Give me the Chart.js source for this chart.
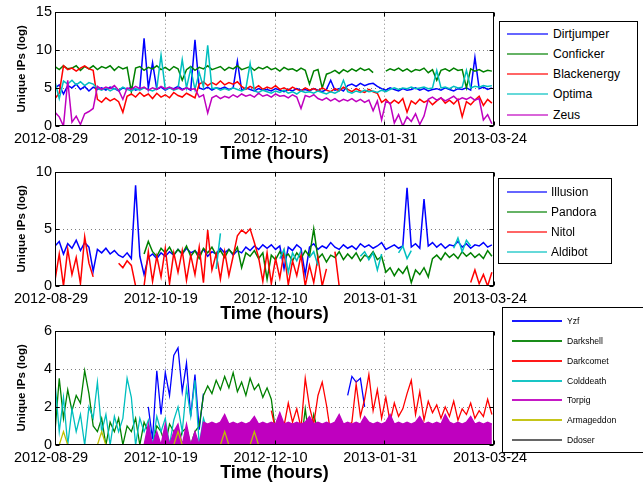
<!DOCTYPE html>
<html><head><meta charset="utf-8">
<script src="https://cdn.jsdelivr.net/npm/chart.js@4"></script>
<style>
html,body{margin:0;padding:0;background:#fff;}
body{width:643px;height:483px;overflow:hidden;position:relative;font-family:"Liberation Sans",Arial,sans-serif;}
canvas{position:absolute;left:0;}
.legend{position:absolute;border:1px solid #000;background:#fff;box-sizing:border-box;}
.legend .sw{position:absolute;}
.legend .lb{position:absolute;white-space:nowrap;transform:translateY(-52%);color:#000;}
</style></head>
<body>
<canvas id="c1" width="643" height="166" style="top:0px"></canvas>
<canvas id="c2" width="643" height="166" style="top:160px"></canvas>
<canvas id="c3" width="643" height="166" style="top:319px"></canvas>
<div id="lg1" class="legend" style="left:499px;top:21px;width:139px;height:105px"></div>
<div id="lg2" class="legend" style="left:498px;top:178px;width:114px;height:86px"></div>
<div id="lg3" class="legend" style="left:502px;top:307px;width:150px;height:146px"></div>
<script>
const _ = null;
// sampling interval of all series (days since 2012-08-29)
const DAY_STEP = 2;
const tickDays = [0, 51.75, 103.5, 155.25, 207];
const tickLabels = ['2012-08-29','2012-10-19','2012-12-10','2013-01-31','2013-03-24'];

// ---------- Panel 1 ----------
const names1 = ['Dirtjumper','Conficker','Blackenergy','Optima','Zeus'];
const dirtjumper = [
5.0,5.4,4.2,5.3,5.0,5.5,4.8,5.2,4.6,5.1,
4.8,5.0,4.7,5.1,4.9,4.6,5.0,4.8,5.1,4.7,
4.9,11.5,5.0,8.3,4.8,5.1,4.7,5.0,4.9,5.2,
4.8,5.0,4.7,11.3,5.0,4.8,5.1,4.7,5.0,4.9,
5.1,4.8,5.0,8.5,4.7,5.0,4.8,4.6,4.9,4.7,
4.8,4.6,4.9,4.7,4.5,4.8,4.6,4.9,4.7,4.8,
4.6,4.9,4.7,4.5,4.8,6.0,4.7,4.9,4.6,5.3,
5.5,5.2,5.6,5.3,5.5,5.6,5.2,4.9,4.7,5.0,
4.8,4.6,4.9,4.7,4.8,5.0,4.7,4.9,4.6,4.8,
4.9,4.7,5.0,4.8,4.6,4.9,4.8,5.0,4.7,9.0,
4.9,5.1,4.8,5.0];
const conficker = [
7.8,7.4,7.9,7.5,7.6,7.9,7.3,7.8,7.5,7.9,
7.4,7.8,7.6,7.9,7.3,7.8,7.5,7.7,4.5,7.6,
7.8,7.3,7.7,7.5,7.9,7.4,7.7,7.3,7.8,7.5,
6.0,7.4,7.8,7.3,7.7,7.5,7.9,7.4,7.6,7.8,
7.3,7.7,7.5,7.9,7.4,7.6,7.8,7.3,7.7,7.5,
7.8,7.4,7.6,7.2,7.7,7.4,7.5,7.2,7.6,7.3,
5.5,7.2,7.4,5.0,6.8,7.0,7.3,6.9,7.4,7.1,
7.5,7.2,7.6,7.3,7.5,7.0,_,_,7.2,7.5,
7.3,7.6,7.2,7.5,7.1,7.4,7.3,7.6,7.0,7.4,
6.0,7.3,7.5,7.2,7.6,7.3,7.4,5.0,7.5,7.2,
7.4,7.1,7.3,7.2];
const blackenergy = [
3.6,4.3,7.9,7.4,7.6,7.2,7.6,7.9,7.5,7.3,
3.5,3.1,3.7,3.3,3.6,3.2,1.8,3.9,4.2,3.8,
4.4,3.9,4.2,3.6,4.3,3.8,4.1,3.7,4.4,4.0,
3.8,4.3,4.0,3.7,5.5,5.8,5.3,5.7,5.4,5.9,
5.4,5.7,5.5,5.8,5.2,4.8,5.2,4.9,5.3,4.8,
5.1,4.9,5.3,4.8,5.0,4.7,5.1,4.8,4.6,5.0,
4.7,4.9,4.6,5.0,4.7,4.5,4.9,4.6,5.1,4.8,
4.5,4.9,4.6,4.4,4.8,4.5,4.3,3.1,3.5,2.9,
3.4,3.0,3.6,1.8,3.3,2.9,3.5,3.1,3.4,2.8,
3.3,3.7,3.0,3.4,2.9,3.5,1.2,3.2,2.8,3.4,
3.9,2.7,3.5,3.0];
const optima = [
5.8,3.6,5.9,5.5,6.0,5.4,5.8,5.3,5.7,5.5,
4.9,4.7,5.0,4.6,4.9,4.7,5.1,4.8,4.6,4.9,
4.7,5.0,4.8,4.6,4.9,9.3,4.8,5.0,4.7,4.9,
8.7,5.0,7.5,4.8,7.0,5.1,10.6,4.9,5.0,4.7,
4.9,4.7,5.0,4.8,4.6,4.9,8.2,4.6,4.4,4.7,
4.5,4.3,4.6,4.4,4.7,4.3,4.5,4.2,4.6,4.4,
4.5,4.3,4.6,4.4,4.2,4.5,4.3,4.6,6.0,4.5,
4.3,4.6,4.4,4.7,4.5,4.6,4.4,4.7,4.5,4.8,
5.0,4.8,5.0,4.9,5.1,4.9,5.0,5.1,4.9,5.0,
7.3,5.0,5.1,4.9,5.2,5.0,5.1,7.3,5.0,5.2,
5.1,5.3,5.2,5.3];
const zeus = [
1.8,1.2,0.0,6.0,0.5,1.3,0.2,1.6,1.9,2.3,
5.2,4.8,5.1,4.9,5.3,4.7,3.5,5.0,4.8,5.2,
4.9,5.1,4.7,5.0,4.8,5.2,4.9,5.1,4.8,5.0,
4.7,5.0,4.8,4.9,3.8,4.1,1.7,3.7,4.0,3.6,
3.9,3.7,4.1,3.8,4.2,3.9,4.1,3.8,4.3,3.9,
4.1,3.8,4.2,3.9,4.0,3.7,4.1,3.8,2.3,4.0,
3.8,4.1,3.6,3.4,3.7,3.3,3.6,3.2,3.5,3.3,
3.6,3.2,3.5,3.1,3.4,2.0,3.3,0.8,3.2,3.0,
0.4,1.5,0.0,1.2,0.6,1.6,0.2,1.3,3.5,3.8,
3.4,3.7,3.3,3.6,3.9,3.4,3.7,3.5,3.8,3.4,
3.6,0.8,1.5,0.3];

// ---------- Panel 2 ----------
const names2 = ['Illusion','Pandora','Nitol','Aldibot'];
const illusion = [
3.5,3.9,2.8,3.7,3.3,4.0,3.1,3.8,3.4,1.3,
3.2,2.9,3.3,2.8,3.1,2.7,2.5,2.9,2.4,8.8,
2.6,1.0,2.5,2.8,2.4,2.9,2.6,3.0,2.7,3.2,
2.8,3.3,2.9,3.1,2.7,3.2,2.6,3.0,2.8,3.3,
2.9,3.2,2.7,3.1,2.9,3.4,3.1,3.5,3.2,3.6,
3.3,3.6,3.2,3.5,1.5,3.4,3.1,3.6,3.3,1.0,
3.4,3.7,3.2,3.5,3.3,3.8,3.4,3.2,3.6,3.3,
3.5,3.2,3.7,3.4,3.6,3.3,3.5,3.8,3.2,3.4,
3.6,3.3,3.5,8.6,3.4,3.7,3.3,7.6,3.5,3.8,
3.4,3.7,3.3,3.6,3.5,3.9,3.4,3.7,3.3,3.6,
3.5,3.8,3.4,3.6];
const pandora = [
_,_,_,_,_,_,_,_,_,_,
_,_,_,_,_,_,_,_,_,_,
_,2.8,3.9,3.0,2.6,3.3,2.9,3.4,2.7,3.2,
2.8,3.5,2.6,3.1,2.4,3.3,2.9,3.4,2.7,3.1,
2.5,3.2,2.8,3.4,1.6,2.9,2.6,3.1,2.4,2.9,
0.6,2.7,2.3,3.0,2.5,2.8,2.2,2.9,2.4,3.1,
2.6,5.0,2.4,2.8,2.1,2.7,2.5,3.0,2.3,2.8,
2.4,2.9,2.2,2.7,2.5,3.0,2.3,2.6,1.2,1.6,
0.9,1.5,1.1,1.7,0.3,1.4,1.0,1.6,0.8,2.4,
2.7,2.3,2.9,2.5,2.8,2.4,3.0,2.6,2.9,2.5,
2.8,2.4,3.1,2.6];
const nitol = [
0.5,2.8,0.0,3.2,1.0,2.5,0.2,4.3,2.0,0.8,
_,_,_,_,_,2.0,1.6,2.2,1.8,0.0,
0.0,0.0,3.0,0.4,2.6,0.8,3.3,0.2,2.9,1.2,
3.1,0.5,2.7,1.0,3.4,0.3,4.9,1.4,2.8,0.6,
3.0,0.9,2.6,4.4,4.9,4.6,5.0,3.8,2.5,0.4,
2.9,0.2,2.4,0.7,3.0,0.1,2.2,0.9,2.7,0.0,
1.8,0.3,2.5,0.0,1.5,_,3.0,0.0,_,_,
_,_,_,_,_,_,_,_,_,_,
_,_,_,_,_,_,_,_,_,_,
_,_,_,_,_,_,_,_,0.3,1.4,
0.2,1.0,0.0,1.2];
const aldibot = [
_,_,_,_,_,_,_,_,_,_,
_,_,_,_,_,_,_,_,_,_,
_,_,_,_,_,_,_,_,_,_,
_,_,_,_,_,_,_,_,1.5,4.6,
_,_,_,_,_,_,_,_,_,_,
_,_,_,2.4,3.2,1.2,2.9,2.2,3.1,_,
2.5,3.0,1.8,_,_,_,_,_,_,_,
_,_,2.6,3.0,2.3,2.9,1.4,2.8,_,_,
_,2.9,3.5,2.4,3.1,_,_,_,_,_,
_,_,_,_,3.3,4.2,3.0,4.0,3.5,_,
_,_,_,_];

// ---------- Panel 3 ----------
const names3 = ['Yzf','Darkshell','Darkcomet','Colddeath','Torpig','Armageddon','Ddoser'];
const yzf = [
_,_,_,_,_,_,_,_,_,_,
_,_,_,_,_,_,_,_,_,_,
_,_,2.0,0.3,3.9,1.6,3.8,2.6,4.7,5.1,
2.8,4.3,1.5,3.7,0.8,2.7,_,_,_,_,
_,_,_,_,_,_,_,_,_,_,
_,_,_,_,_,_,_,_,_,_,
_,_,_,_,_,_,_,_,_,2.6,
3.6,3.3,3.5,2.0,_,_,_,_,_,_,
_,_,_,_,_,_,_,_,_,_,
_,_,_,_,_,_,_,_,_,_,
_,_,_,_];
const darkshell = [
0.7,3.5,1.4,2.9,1.8,2.6,2.2,3.9,2.7,1.0,
0.7,1.4,0.0,1.2,0.7,1.4,0.0,1.0,0.7,1.4,
0.0,1.2,0.7,0.0,1.0,0.7,0.0,1.1,0.7,0.0,
0.7,0.9,0.0,0.7,1.0,2.6,3.1,2.7,3.4,2.9,
3.6,3.0,3.8,2.8,3.3,2.6,3.5,2.9,3.2,2.5,
3.0,2.4,0.7,0.0,1.0,0.7,0.0,0.7,0.0,1.9,
0.2,1.6,0.7,_,_,_,_,_,_,_,
_,_,_,_,_,_,_,_,_,_,
_,_,_,_,_,_,_,_,_,_,
_,_,_,_,_,_,_,_,_,_,
_,_,_,_];
const darkcomet = [
_,_,_,_,_,_,_,_,_,_,
_,_,_,_,_,_,_,_,_,_,
_,_,_,_,_,_,_,_,_,_,
_,_,_,_,_,_,_,_,_,_,
_,_,_,_,_,_,_,_,_,_,
_,1.8,0.8,1.6,1.0,2.2,1.2,1.9,0.9,3.5,
2.0,1.1,2.6,3.3,2.1,0.6,0.9,0.5,0.8,1.0,
1.2,3.2,1.5,2.4,3.7,1.8,2.9,1.4,2.5,1.2,
2.2,1.5,1.9,2.7,3.4,1.6,2.8,1.3,2.3,1.7,
2.1,1.4,2.0,1.5,2.3,1.3,1.9,1.6,2.2,1.4,
1.8,1.5,2.4,1.6];
const colddeath = [
3.3,0.7,2.5,0.0,1.9,0.7,1.6,0.0,2.0,1.4,
3.3,0.7,1.6,0.0,1.5,0.7,1.4,3.5,2.5,0.0,
1.4,0.7,1.3,0.0,1.5,0.7,1.4,0.0,1.3,2.0,
0.7,3.0,1.5,3.4,0.0,1.4,0.7,0.0,0.7,0.0,
_,_,_,_,_,_,_,_,_,_,
_,_,_,_,_,_,_,_,_,_,
_,_,_,_,_,_,_,_,_,_,
_,_,_,_,_,_,_,_,_,_,
_,_,_,_,_,_,_,_,_,_,
_,_,_,_,_,_,_,_,_,_,
_,_,_,_];
const torpig = [
_,_,_,_,_,_,_,_,_,_,
_,_,_,_,_,_,_,_,_,_,
_,0.0,1.1,0.0,0.7,0.0,1.1,0.0,0.7,1.1,
0.0,1.1,0.0,0.7,0.0,1.2,1.1,1.2,1.1,1.2,
1.6,1.1,1.2,1.1,1.2,1.1,1.2,1.5,1.1,1.2,
1.1,1.2,1.1,1.7,1.1,1.2,1.1,1.2,1.1,1.2,
1.5,1.1,1.2,1.1,1.2,1.1,1.2,1.6,1.1,1.2,
1.1,1.2,1.1,1.5,1.2,1.1,1.2,1.1,1.2,1.6,
1.1,1.2,1.1,1.2,1.1,1.2,1.5,1.1,1.2,1.1,
1.2,1.1,1.6,1.2,1.1,1.2,1.1,1.2,1.5,1.1,
1.2,1.1,1.2,1.1];
const armageddon = [
0,0,0.7,0,0,0,0,0,0,0,
0,0.7,0,0,0,0,0,0,0,0,
0,0,0,0,0,0,0,0,0,0.7,
0,0,0,0,0,0,0,0,0,0,
0.7,0,0,0,0,0,0,0.7,0,0,
0,0,0,0,0,0,0,0,0,0,
0,0,0,0,0,0,0,0,0,0,
0,0,0,0,0,0,0,0,0,0,
0,0,0,0,0,0,0,0,0,0,
0,0,0,0,0,0,0,0,0,0,
0,0,0,0];
const ddoser = [
0,0,0,0,0,0,0,0,0,0,
0,0,0,0,0,0,0,0,0,0,
0,0,0,0,0,0,0,0,0,0,
0,0,0,0,0,0,0,0,0,0,
0,0,0,0,0,0,0,0,0,0,
0,0,0,0,0,0,0,0,0,0,
0,0,0,0,0,0,0,0,0,0,
0,0,0,0,0,0,0,0,0,0,
0,0,0,0,0,0,0,0,0,0,
0,0,0,0,0,0,0,0,0,0,
0,0,0,0];

const BLUE='#0000ff', GREEN='#008000', RED='#ff0000', CYAN='#00bfbf', MAGENTA='#bf00bf', YELLOW='#bfbf00', GRAY='#555555';

Chart.defaults.font.family = "'Liberation Sans', Arial, Helvetica, sans-serif";
Chart.defaults.color = '#000';

const matlabAxes = {
  id: 'matlabAxes',
  beforeDatasetsDraw(chart) {
    const {ctx, chartArea: a, scales: {x, y}} = chart;
    ctx.save();
    ctx.strokeStyle = '#808080'; ctx.lineWidth = 1; ctx.setLineDash([1, 3]);
    x.ticks.forEach(t => {
      const px = Math.round(x.getPixelForValue(t.value)) + 0.5;
      if (px > a.left + 2 && px < a.right - 2) { ctx.beginPath(); ctx.moveTo(px, a.top); ctx.lineTo(px, a.bottom); ctx.stroke(); }
    });
    y.ticks.forEach(t => {
      const py = Math.round(y.getPixelForValue(t.value)) + 0.5;
      if (py > a.top + 2 && py < a.bottom - 2) { ctx.beginPath(); ctx.moveTo(a.left, py); ctx.lineTo(a.right, py); ctx.stroke(); }
    });
    ctx.restore();
  },
  afterDatasetsDraw(chart) {
    const {ctx, chartArea: a, scales: {x, y}} = chart;
    const L = Math.round(a.left) + 0.5, R = Math.round(a.right) - 0.5, T = Math.round(a.top) + 0.5, B = Math.round(a.bottom) - 0.5;
    ctx.save();
    ctx.strokeStyle = '#000'; ctx.lineWidth = 1; ctx.setLineDash([]);
    ctx.strokeRect(L, T, R - L, B - T);
    const tl = 4;
    ctx.beginPath();
    x.ticks.forEach(t => {
      const px = Math.round(x.getPixelForValue(t.value)) + 0.5;
      ctx.moveTo(px, B); ctx.lineTo(px, B - tl);
      ctx.moveTo(px, T); ctx.lineTo(px, T + tl);
    });
    y.ticks.forEach(t => {
      const py = Math.round(y.getPixelForValue(t.value)) + 0.5;
      ctx.moveTo(L, py); ctx.lineTo(L + tl, py);
      ctx.moveTo(R, py); ctx.lineTo(R - tl, py);
    });
    ctx.stroke();
    ctx.restore();
  }
};

function toPoints(vals) { return vals.map((v, i) => ({x: i * DAY_STEP, y: v})); }

function buildChart(id, names, colors, series, yMax, yStep, padTop, fills, lw) {
  const n = series.length;
  const datasets = series.map((vals, i) => ({
    label: names[i], data: toPoints(vals),
    borderColor: colors[i], backgroundColor: colors[i],
    borderWidth: lw, pointRadius: 0, pointHoverRadius: 0, tension: 0, spanGaps: false,
    fill: fills && fills[i] ? 'origin' : false,
    order: n - i
  }));
  return new Chart(document.getElementById(id), {
    type: 'line',
    data: {datasets},
    options: {
      responsive: false, animation: false, devicePixelRatio: 1, events: [],
      layout: {padding: {top: padTop, right: 149, left: 0, bottom: 0}},
      plugins: {legend: {display: false}, tooltip: {enabled: false}},
      scales: {
        x: {
          type: 'linear', min: 0, max: 207,
          afterBuildTicks: s => { s.ticks = tickDays.map(v => ({value: v})); },
          afterFit: s => { s.height = 40; },
          ticks: {autoSkip: false, maxRotation: 0, minRotation: 0, padding: 4, labelOffset: -4,
                  color: '#000', font: {size: 14.5}, callback: (v, i) => tickLabels[i]},
          grid: {display: false, drawTicks: false, tickLength: 0},
          border: {display: false},
          title: {display: true, text: 'Time (hours)', color: '#000',
                  font: {size: 18, weight: 'bold'}, padding: {top: 0, bottom: 1}}
        },
        y: {
          type: 'linear', min: 0, max: yMax,
          ticks: {stepSize: yStep, padding: 3, color: '#000', font: {size: 14.5}},
          afterFit: s => { s.width = 55; },
          grid: {display: false, drawTicks: false, tickLength: 0},
          border: {display: false},
          title: {display: true, text: 'Unique IPs (log)', color: '#000',
                  font: {size: 11.5, weight: 'bold'}, padding: {top: 15, bottom: 0}}
        }
      }
    },
    plugins: [matlabAxes]
  });
}

buildChart('c1', names1, [BLUE, GREEN, RED, CYAN, MAGENTA],
  [dirtjumper, conficker, blackenergy, optima, zeus], 15, 5, 11, null, 1.5);
buildChart('c2', names2, [BLUE, GREEN, RED, CYAN],
  [illusion, pandora, nitol, aldibot], 10, 5, 11.5, null, 1.5);
buildChart('c3', names3, [BLUE, GREEN, RED, CYAN, MAGENTA, YELLOW, GRAY],
  [yzf, darkshell, darkcomet, colddeath, torpig, armageddon, ddoser], 6, 2, 11,
  [false, false, false, false, true, false, false], 1.3);

function buildLegend(id, names, colors, rows, swLeft, swWidth, txtLeft, fontSize, swH, swOp) {
  const box = document.getElementById(id);
  names.forEach((nm, i) => {
    const sw = document.createElement('div');
    sw.className = 'sw';
    sw.style.cssText = `left:${swLeft}px;top:${rows[i] - swH / 2}px;width:${swWidth}px;height:${swH}px;background:${colors[i]};opacity:${swOp};`;
    box.appendChild(sw);
    const lb = document.createElement('div');
    lb.className = 'lb';
    lb.textContent = nm;
    lb.style.cssText = `left:${txtLeft}px;top:${rows[i]}px;font-size:${fontSize}px;`;
    box.appendChild(lb);
  });
}
buildLegend('lg1', names1, [BLUE, GREEN, RED, CYAN, MAGENTA], [11.5, 31.5, 51.5, 71.5, 92.5], 7, 41, 53, 12.2, 2, 0.6);
buildLegend('lg2', names2, [BLUE, GREEN, RED, CYAN], [12.5, 32.5, 52.5, 72.5], 8, 40, 52, 12, 2, 0.6);
buildLegend('lg3', names3, [BLUE, GREEN, RED, CYAN, MAGENTA, YELLOW, GRAY], [13, 33, 53, 73, 92, 112, 132], 9, 50, 64, 8.6, 2, 0.9);
</script>
</body></html>
